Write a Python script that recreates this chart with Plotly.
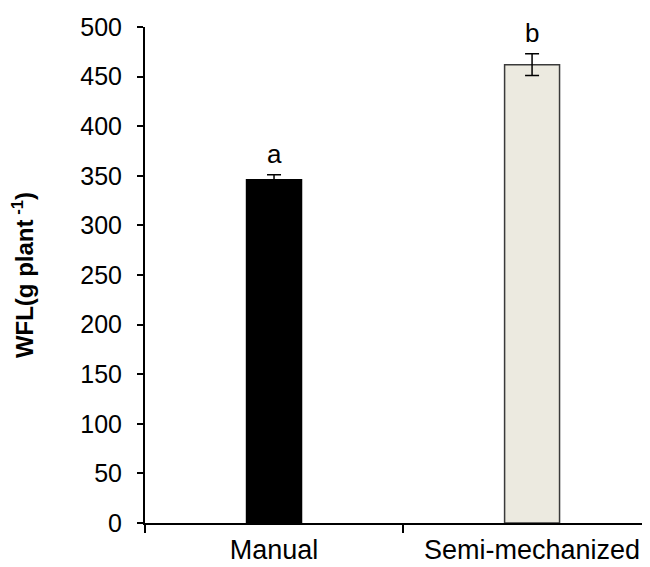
import plotly.graph_objects as go

categories = ["Manual", "Semi-mechanized"]
values = [346, 462]
errors = [5, 11]
letters = ["a", "b"]
colors = ["#000000", "#ECEAE0"]
line_colors = ["#000000", "#3a3a3a"]

FONT = "Liberation Sans, Arial, sans-serif"

fig = go.Figure()
fig.add_trace(go.Bar(
    x=categories, y=values,
    width=0.213,
    marker=dict(color=colors, line=dict(color=line_colors, width=1.5)),
    error_y=dict(type="data", array=errors, visible=True, color="#000000", thickness=1.5, width=7),
))
for c, v, e, l in zip(categories, values, errors, letters):
    fig.add_annotation(x=c, y=v + e, text=l, showarrow=False, yanchor="bottom", yshift=4,
                       font=dict(family=FONT, size=26, color="#000"))

fig.update_layout(
    width=650, height=567,
    margin=dict(l=137, r=8, t=19, b=52),
    plot_bgcolor="white", paper_bgcolor="white",
    showlegend=False,
    font=dict(family=FONT, size=26, color="#000"),
)
fig.update_xaxes(
    type="category", range=[-0.5, 1.457], tickson="boundaries",
    showline=True, linecolor="#000", linewidth=2,
    ticks="outside", ticklen=8, tickwidth=2, tickcolor="#000",
    showgrid=False, automargin=False,
    ticklabelstandoff=2,
    tickfont=dict(family=FONT, size=27, color="#000"),
)
fig.update_yaxes(
    range=[0, 500], dtick=50,
    showline=True, linecolor="#000", linewidth=2,
    ticks="outside", ticklen=6, tickwidth=2, tickcolor="#000",
    showgrid=False, zeroline=False, automargin=False,
    ticklabelstandoff=10,
    tickfont=dict(family=FONT, size=25, color="#000"),
    title=dict(text="<b>WFL(g plant<sup> -1</sup>)</b>", font=dict(family=FONT, size=24, color="#000"), standoff=42),
)
fig.write_html("out.html")
